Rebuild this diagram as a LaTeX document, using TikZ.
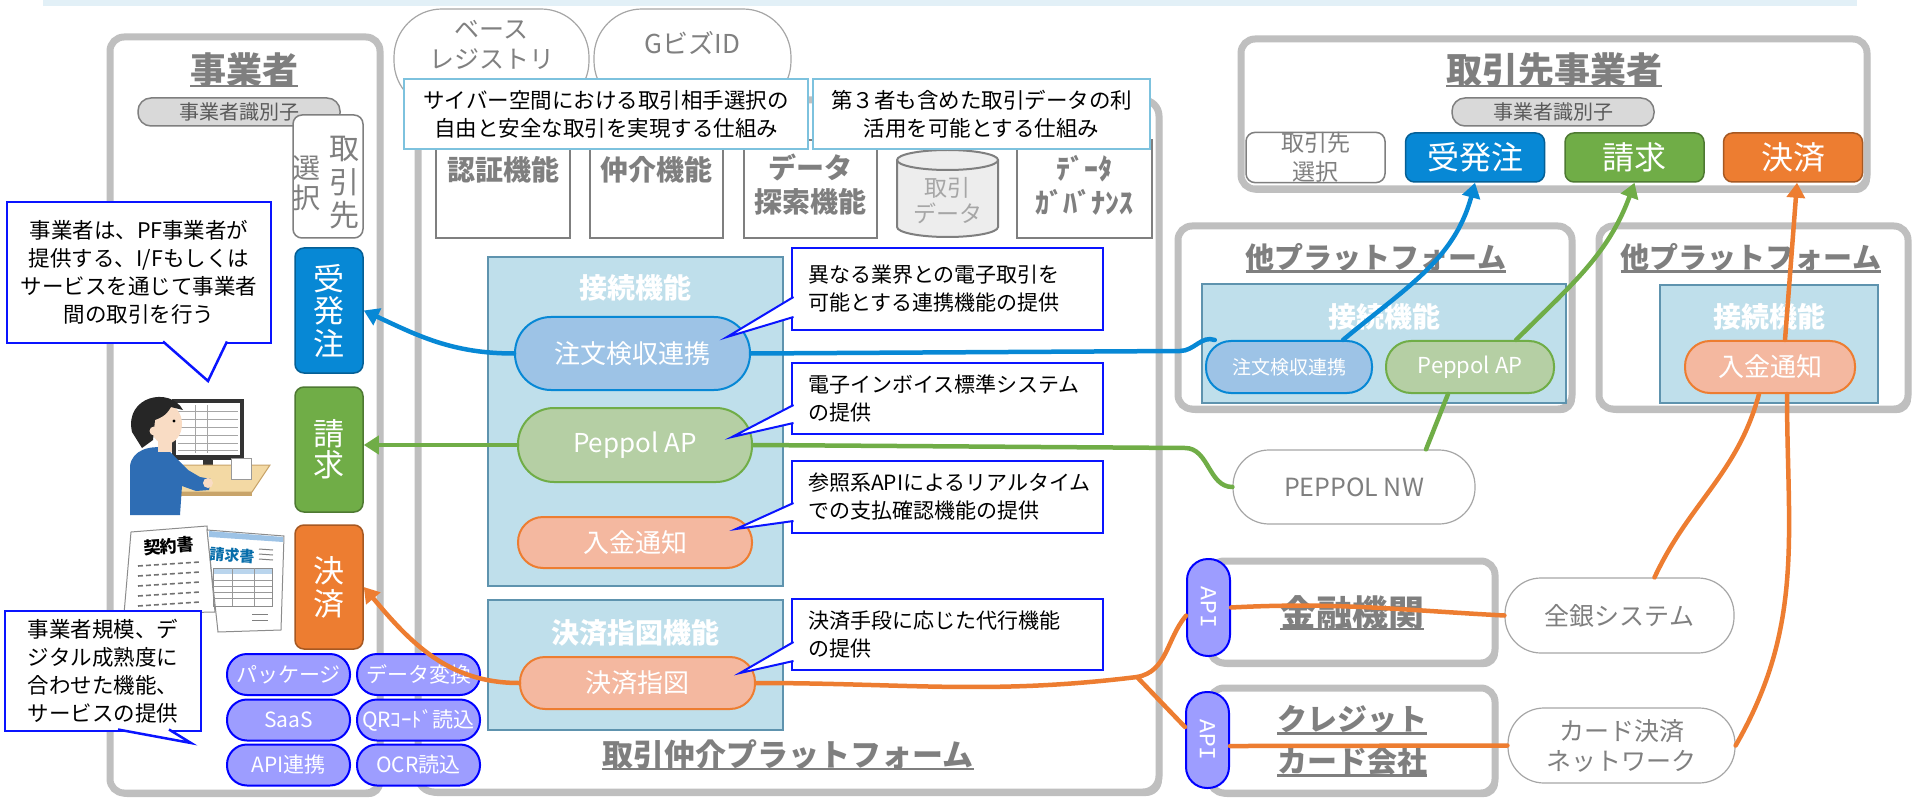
\documentclass[tikz,border=0pt]{standalone}
\usepackage{fontspec}
\setmainfont{Noto Sans CJK JP}
\newfontfamily\apifont{Liberation Mono}
\usetikzlibrary{arrows.meta,shadows}

\definecolor{wakugray}{HTML}{BFBFBF}
\definecolor{mojigray}{HTML}{7F7F7F}
\definecolor{usugray}{HTML}{A6A6A6}
\definecolor{juao}{HTML}{0788D5}
\definecolor{seimidori}{HTML}{70AD47}
\definecolor{kedai}{HTML}{ED7D31}
\definecolor{setsufill}{HTML}{BFDFEB}
\definecolor{setsuline}{HTML}{5E93AE}
\definecolor{chumonfill}{HTML}{9DC3E6}
\definecolor{peppolfill}{HTML}{B5CFA4}
\definecolor{nyukinfill}{HTML}{F4B8A0}
\definecolor{svcfill}{HTML}{9D9DFF}
\definecolor{aoline}{HTML}{0A14FF}
\definecolor{sorairo}{HTML}{7DC2DE}
\definecolor{obi}{HTML}{E2F0F7}
\definecolor{idfill}{HTML}{D9D9D9}
\definecolor{shatsu}{HTML}{2E6DB4}
\definecolor{hada}{HTML}{F9DCC4}
\definecolor{tsukue}{HTML}{F3D9A4}
\definecolor{tsukuesen}{HTML}{C8A46A}

\newcommand{\kasen}[1]{\setbox0=\hbox{#1}\rlap{\copy0}\rule[-4pt]{\wd0}{2.5pt}}

\tikzstyle{waku}=[rectangle,draw=wakugray,line width=7pt,rounded corners=14pt,fill=white,drop shadow={shadow xshift=3pt,shadow yshift=-4pt,opacity=0.25,fill=black}]
\tikzstyle{midashi}=[text=mojigray,font=\bfseries\fontsize{36}{40}\selectfont,align=center]
\tikzstyle{tamidashi}=[text=mojigray,font=\bfseries\fontsize{29}{32}\selectfont]
\tikzstyle{idpill}=[rectangle,rounded corners=13pt,draw=mojigray,line width=1.5pt,fill=idfill,minimum width=202pt,minimum height=28pt,inner sep=0pt,text=black!65,font=\fontsize{20}{22}\selectfont]
\tikzstyle{iro}=[rectangle,rounded corners=9pt,line width=1.5pt,inner sep=0pt,text=white,align=center]
\tikzstyle{tate}=[text=mojigray,align=center,inner sep=0pt]
\tikzstyle{kino}=[rectangle,draw=mojigray,line width=2pt,fill=white,minimum width=134pt,minimum height=98pt]
\tikzstyle{kinomoji}=[text=mojigray,font=\bfseries\fontsize{28}{34}\selectfont,align=center]
\tikzstyle{kiban}=[rectangle,rounded corners=48pt,draw=usugray,line width=1.2pt,fill=white,minimum height=100pt]
\tikzstyle{kibanmoji}=[text=black!50,font=\fontsize{25}{30}\selectfont,align=center]
\tikzstyle{fukiA}=[rectangle,draw=aoline,line width=2pt,fill=white,text width=279pt,inner xsep=16pt,inner ysep=0pt,align=left,font=\fontsize{21}{28}\selectfont]
\tikzstyle{fukiB}=[rectangle,draw=sorairo,line width=2.5pt,fill=white,inner sep=0pt,minimum height=70pt,align=center,font=\fontsize{21.5}{28}\selectfont]
\tikzstyle{fukiC}=[rectangle,draw=aoline,line width=2.5pt,fill=white,inner sep=0pt,align=center,font=\fontsize{21.5}{28}\selectfont]
\tikzstyle{sippo}=[fill=white,draw=aoline,line width=2pt]
\tikzstyle{setsu}=[rectangle,draw=setsuline,line width=2pt,fill=setsufill,minimum width=295pt]
\tikzstyle{setsumoji}=[text=white,font=\bfseries\fontsize{28}{30}\selectfont]
\tikzstyle{pill}=[rectangle,rounded corners=25pt,line width=2pt,inner sep=0pt,text=white,font=\fontsize{26}{28}\selectfont]
\tikzstyle{svc}=[rectangle,rounded corners=20pt,draw=blue,line width=2pt,fill=svcfill,minimum width=123pt,minimum height=41pt,inner sep=0pt,text=white,font=\fontsize{21}{22}\selectfont]
\tikzstyle{nw}=[rectangle,rounded corners=36pt,draw=usugray,line width=1.2pt,fill=white,inner sep=0pt,text=mojigray,align=center,font=\fontsize{25}{30}\selectfont]
\tikzstyle{api}=[rectangle,rounded corners=21pt,draw=blue,line width=2pt,fill=svcfill,minimum width=43pt,minimum height=97pt,inner sep=0pt,text=white,font=\apifont\fontsize{23}{24}\selectfont]
\tikzstyle{sen}=[line width=4.5pt,line cap=round]
\tikzstyle{ya}=[-{Triangle[length=15pt,width=18pt]}]

\begin{document}
\begin{tikzpicture}[x=1pt,y=-1pt]
		\useasboundingbox (0,0) rectangle (1913,799);
		\fill[obi] (43,0) rectangle (1857,6);

		\node (jigyosha) at (245,415) [waku,minimum width=270pt,minimum height=756pt] {};
		\node (pf) at (788.5,446) [waku,rounded corners=16pt,minimum width=741pt,minimum height=692pt] {};

		\node (baseReg) at (491.5,59) [kiban,minimum width=195pt] {};
		\node (baseRegMoji) at (491.5,45) [kibanmoji] {ベース\\レジストリ};
		\node (gbiz) at (692.5,59) [kiban,minimum width=197pt] {};
		\node (gbizMoji) at (692.5,43) [kibanmoji,font=\fontsize{26}{30}\selectfont] {GビズID};

		\node (ninsho) at (503,189) [kino] {};
		\node (ninshoMoji) at (503,170) [kinomoji] {認証機能};
		\node (chukai) at (656.5,189) [kino,minimum width=133pt] {};
		\node (chukaiMoji) at (656.5,170) [kinomoji] {仲介機能};
		\node (tansaku) at (810.5,189) [kino,minimum width=133pt] {};
		\node (tansakuMoji) at (810.5,185) [kinomoji] {データ\\探索機能};
		\filldraw[fill=black!7,draw=mojigray,line width=2pt] (897,160) -- (897,227) arc[start angle=180,end angle=360,x radius=50.5pt,y radius=10pt] -- (998,160) arc[start angle=0,end angle=180,x radius=50.5pt,y radius=10pt] -- cycle;
		\draw[mojigray,line width=2pt] (897,160) arc[start angle=180,end angle=360,x radius=50.5pt,y radius=10pt];
		\node (dataMoji) at (947.5,201) [text=usugray,align=center,font=\fontsize{23}{26}\selectfont] {取引\\データ};
		\node (gov) at (1084.5,189) [kino,minimum width=135pt] {};
		\node (govMoji) at (1084.5,185) [kinomoji] {ﾃﾞｰﾀ\\ｶﾞﾊﾞﾅﾝｽ};

		\node (shikumi1) at (606,114) [fukiB,minimum width=404pt] {サイバー空間における取引相手選択の\\自由と安全な取引を実現する仕組み};
		\node (shikumi2) at (981.5,114) [fukiB,minimum width=337pt] {第３者も含めた取引データの利\\活用を可能とする仕組み};

		\node (setsuA) at (635.5,421.5) [setsu,minimum height=329pt] {};
		\node (setsuAMoji) at (635.5,288) [setsumoji] {接続機能};
		\node (chumonA) at (632.5,353.5) [pill,draw=juao,fill=chumonfill,rounded corners=36pt,minimum width=235pt,minimum height=73pt] {注文検収連携};
		\node (peppolA) at (635,445) [pill,draw=seimidori,fill=peppolfill,rounded corners=36pt,minimum width=234pt,minimum height=74pt] {Peppol AP};
		\node (nyukinA) at (635,542.5) [pill,draw=kedai,fill=nyukinfill,minimum width=234pt,minimum height=51pt] {入金通知};
		\node (shijiBox) at (635.5,665) [setsu,minimum height=130pt] {};
		\node (shijiBoxMoji) at (635.5,633) [setsumoji] {決済指図機能};
		\node (shijiA) at (637.5,683) [pill,draw=kedai,fill=nyukinfill,minimum width=235pt,minimum height=52pt] {決済指図};

		\node (setsumei1) at (947.5,289) [fukiA,minimum height=82pt] {異なる業界との電子取引を\\可能とする連携機能の提供};
		\filldraw[sippo] (793.5,297) -- (727,337) -- (793.5,317);
		\node (setsumei2) at (947.5,398.5) [fukiA,minimum height=71pt] {電子インボイス標準システム\\の提供};
		\filldraw[sippo] (793.5,405) -- (732,437) -- (793.5,423);
		\node (setsumei3) at (947.5,497) [fukiA,minimum height=72pt] {参照系APIによるリアルタイム\\での支払確認機能の提供};
		\filldraw[sippo] (793.5,503) -- (736,529) -- (793.5,521);
		\node (setsumei4) at (947.5,634.5) [fukiA,minimum height=71pt] {決済手段に応じた代行機能\\の提供};
		\filldraw[sippo] (793.5,642) -- (740,673) -- (793.5,661);

		\node (pfMoji) at (788,755) [text=mojigray,font=\bfseries\fontsize{31}{34}\selectfont] {\kasen{取引仲介プラットフォーム}};

		\node (jigyoshaMoji) at (244,70) [midashi] {\kasen{事業者}};
		\node (shikibetsuL) at (239,112) [idpill] {事業者識別子};
		\node (sentakuL) at (328,176.5) [iro,draw=mojigray,fill=white,minimum width=70pt,minimum height=123pt] {};
		\node (sentakuL1) at (344,183) [tate,font=\fontsize{30}{33.5}\selectfont] {取\\引\\先};
		\node (sentakuL2) at (306,183) [tate,font=\fontsize{28}{30}\selectfont] {選\\択};
		\node (juhatchuL) at (329,310.5) [iro,fill=juao,draw=juao!70!black,minimum width=68pt,minimum height=125pt,font=\fontsize{31}{32.5}\selectfont] {受\\発\\注};
		\node (seikyuL) at (329,449.5) [iro,fill=seimidori,draw=seimidori!70!black,minimum width=68pt,minimum height=125pt,font=\fontsize{31}{31}\selectfont] {請\\求};
		\node (kessaiL) at (329,587) [iro,fill=kedai,draw=kedai!70!black,minimum width=68pt,minimum height=124pt,font=\fontsize{31}{33}\selectfont] {決\\済};

		% pasokon no hito
		\fill[black!80] (172,399) rectangle (244,460);
		\fill[white] (176,403) rectangle (240,455);
		\foreach \gy in {411,419,427,435,443,450}
			\draw[black!35,line width=0.6pt] (178,\gy) -- (238,\gy);
		\draw[black!35,line width=0.6pt] (195,405) -- (195,453) (207,405) -- (207,453);
		\fill[black!80] (203,460) rectangle (213,468);
		\fill[black!80] (208,470) ellipse [x radius=15pt,y radius=3pt];
		\filldraw[fill=tsukue,draw=tsukuesen,line width=1pt] (183,465) -- (270,465) -- (252,492) -- (166,492) -- cycle;
		\fill[tsukuesen] (166,492) rectangle (252,496);
		\filldraw[fill=white,draw=black!40,line width=0.8pt] (231,458) rectangle (251,479);
		\fill[shatsu] (130,515) -- (130,466) .. controls (132,450) and (150,445) .. (166,448) -- (188,470) -- (200,477) -- (211,479) -- (209,490) -- (196,491) -- (182,486) -- (180,515) -- cycle;
		\fill[hada] (208,483) circle [radius=5pt];
		\fill[hada] (158,438) rectangle (172,452);
		\fill[hada] (166,424) ellipse [x radius=16pt,y radius=20pt];
		\fill[black!85] (132,432) .. controls (124,396) and (170,386) .. (183,410) -- (171,407) .. controls (166,416) and (160,418) .. (155,420) -- (153,440) -- (142,448) -- cycle;
		\fill[hada] (154,431) circle [radius=4.5pt];
		\fill[black] (174,421) circle [radius=1.6pt];

		% shorui
		\filldraw[fill=white,draw=black!45,line width=1pt] (131,532) -- (207,526) -- (215,612) -- (124,614) -- cycle;
		\node (keiyaku) at (169,546) [rotate=4,font=\bfseries\fontsize{17}{18}\selectfont] {契約書};
		\foreach \gy in {564,574,584,594,604}
			\draw[black!55,line width=1.6pt,dash pattern=on 5pt off 3pt] (138,\gy+2) -- (200,\gy-2);
		\filldraw[fill=white,draw=black!45,line width=1pt] (207,530) -- (284,536) -- (281,630) -- (218,632) -- cycle;
		\fill[chumonfill] (209,531) -- (283,537) -- (283,542) -- (209,537) -- cycle;
		\node (seikyusho) at (232,555) [rotate=-4,text=juao!80!black,font=\bfseries\fontsize{15}{16}\selectfont] {請求書};
		\foreach \gy in {549,554,559}
			\draw[black!50,line width=1pt] (259,\gy) -- (273,\gy+1);
		\fill[chumonfill!70] (213,568) rectangle (272,574);
		\draw[black!45,line width=0.8pt] (213,568) rectangle (272,606);
		\foreach \gy in {580,586,592,598}
			\draw[black!40,line width=0.6pt] (213,\gy) -- (272,\gy);
		\draw[black!40,line width=0.6pt] (232,568) -- (232,606) (254,568) -- (254,606);
		\draw[black!50,line width=1pt] (252,614) -- (268,614) (252,620) -- (268,620);

		\node (pkg) at (288.5,674.5) [svc] {パッケージ};
		\node (henkan) at (418.5,674.5) [svc] {データ変換};
		\node (saas) at (288.5,720) [svc] {SaaS};
		\node (qr) at (418.5,720) [svc] {QRｺｰﾄﾞ読込};
		\node (apiRenkei) at (288.5,765) [svc] {API連携};
		\node (ocr) at (418.5,765) [svc] {OCR読込};

		\node (fuki1) at (139,272.5) [fukiC,minimum width=264pt,minimum height=141pt] {事業者は、PF事業者が\\提供する、I/Fもしくは\\サービスを通じて事業者\\間の取引を行う};
		\filldraw[sippo,line width=2.5pt] (163,341.5) -- (208,381) -- (227,341.5);
		\node (fuki2) at (103,671) [fukiC,minimum width=196pt,minimum height=120pt] {事業者規模、デ\\ジタル成熟度に\\合わせた機能、\\サービスの提供};
		\filldraw[sippo,line width=2.5pt] (118,729.5) -- (191,743) -- (169,729.5);

		\node (aite) at (1554,114) [waku,minimum width=626pt,minimum height=150pt] {};
		\node (aiteMoji) at (1554,70) [midashi] {\kasen{取引先事業者}};
		\node (shikibetsuR) at (1553,112) [idpill] {事業者識別子};
		\node (sentakuR) at (1315.5,157.5) [iro,draw=mojigray,fill=white,text=mojigray,minimum width=139pt,minimum height=49pt,font=\fontsize{23}{29}\selectfont] {取引先\\選択};
		\node (juhatchuR) at (1475,157.5) [iro,fill=juao,draw=juao!70!black,minimum width=139pt,minimum height=49pt,font=\fontsize{32}{34}\selectfont] {受発注};
		\node (seikyuR) at (1634.5,157.5) [iro,fill=seimidori,draw=seimidori!70!black,minimum width=139pt,minimum height=49pt,font=\fontsize{32}{34}\selectfont] {請求};
		\node (kessaiR) at (1793,157.5) [iro,fill=kedai,draw=kedai!70!black,minimum width=139pt,minimum height=49pt,font=\fontsize{32}{34}\selectfont] {決済};

		\node (taPF1) at (1375,317.5) [waku,minimum width=394pt,minimum height=183pt] {};
		\node (taPF1Moji) at (1376,258) [tamidashi] {\kasen{他プラットフォーム}};
		\node (setsuB) at (1384,343.5) [setsu,minimum width=364pt,minimum height=119pt] {};
		\node (setsuBMoji) at (1384,317) [setsumoji] {接続機能};
		\node (chumonB) at (1289,367) [pill,draw=juao,fill=chumonfill,minimum width=166pt,minimum height=52pt,font=\fontsize{19}{20}\selectfont] {注文検収連携};
		\node (peppolB) at (1470,367) [pill,draw=seimidori,fill=peppolfill,minimum width=168pt,minimum height=52pt,font=\fontsize{22}{24}\selectfont] {Peppol AP};

		\node (taPF2) at (1753.5,317.5) [waku,minimum width=309pt,minimum height=183pt] {};
		\node (taPF2Moji) at (1751,258) [tamidashi] {\kasen{他プラットフォーム}};
		\node (setsuC) at (1769,344) [setsu,minimum width=218pt,minimum height=118pt] {};
		\node (setsuCMoji) at (1769,317) [setsumoji] {接続機能};
		\node (nyukinC) at (1770,367) [pill,draw=kedai,fill=nyukinfill,minimum width=170pt,minimum height=52pt] {入金通知};

		\node (peppolNW) at (1354,487) [nw,minimum width=242pt,minimum height=74pt] {PEPPOL NW};
		\node (kinyu) at (1352.5,612) [waku,minimum width=285pt,minimum height=102pt] {};
		\node (kinyuMoji) at (1352,613) [midashi] {\kasen{金融機関}};
		\node (credit) at (1352.5,740.5) [waku,minimum width=285pt,minimum height=105pt] {};
		\node (creditMoji) at (1352,741) [midashi,font=\bfseries\fontsize{30}{42}\selectfont] {\kasen{クレジット}\\\kasen{カード会社}};
		\node (zengin) at (1619.5,615.5) [nw,minimum width=229pt,minimum height=75pt] {全銀システム};
		\node (cardNW) at (1621.5,745.5) [nw,minimum width=227pt,minimum height=75pt] {カード決済\\ネットワーク};

		\node (apiA) at (1208.5,607.5) [api] {\rotatebox{-90}{API}};
		\node (apiB) at (1207.5,740) [api,minimum height=96pt] {\rotatebox{-90}{API}};

		\coordinate (chumonKado) at (1180,351);
		\coordinate (nwKado) at (1185,448);
		\coordinate (bunki) at (1137,677);

		\path[sen,juao,ya] (chumonA.west) edge[out=180,in=-25] node {} (juhatchuL.east);
		\draw[sen,juao] (chumonA.east) -- (chumonKado) to[out=0,in=160] (chumonB.160);
		\path[sen,juao,ya] ([xshift=54pt]chumonB.north) edge[out=40,in=-105] node {} (juhatchuR.south);

		\path[sen,seimidori,ya] (peppolA.west) edge[] node {} (peppolA.west -| seikyuL.east);
		\draw[sen,seimidori] (peppolA.east) -- (nwKado) to[out=0,in=180] (peppolNW.west);
		\path[sen,seimidori] ([xshift=72pt]peppolNW.north) edge[] node {} ([xshift=-22pt]peppolB.south);
		\path[sen,seimidori,ya] ([xshift=46pt]peppolB.north) edge[out=45,in=-110] node {} (seikyuR.south);

		\path[sen,kedai,ya] (shijiA.west) edge[out=180,in=-50] node {} (kessaiL.east);
		\draw[sen,kedai] (shijiA.east) to[out=0,in=187] (bunki) to[out=10,in=-130] (apiA.200);
		\path[sen,kedai] (bunki) edge[] node {} (apiB.150);
		\path[sen,kedai] (apiA.east) edge[out=3,in=177] node {} (zengin.west);
		\path[sen,kedai] ([xshift=35pt]zengin.north) edge[out=65,in=-105] node {} ([xshift=-11pt]nyukinC.south);
		\path[sen,kedai,ya] ([xshift=15pt]nyukinC.north) edge[] node {} ([xshift=4pt]kessaiR.south);
		\path[sen,kedai] (apiB.-15) edge[] node {} (cardNW.west);
		\path[sen,kedai] (cardNW.east) edge[out=60,in=-90] node {} ([xshift=17pt]nyukinC.south);

	\end{tikzpicture}
\end{document}
